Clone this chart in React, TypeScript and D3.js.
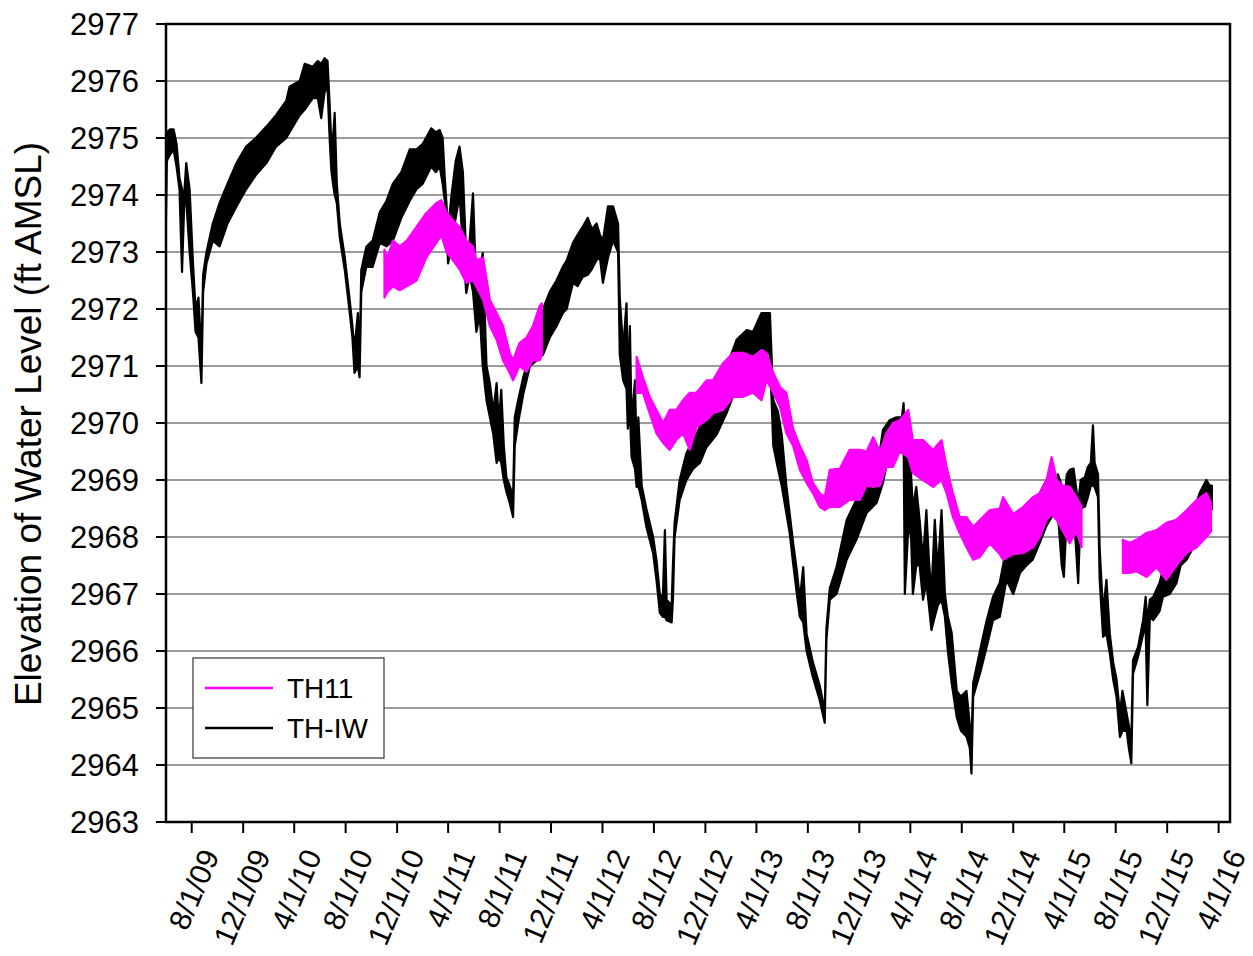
import React from 'react';
import * as d3 from 'd3';

// ---------- data ----------
const yTickValues = [2963, 2964, 2965, 2966, 2967, 2968, 2969, 2970, 2971, 2972, 2973, 2974, 2975, 2976, 2977];
const xTickDates = [
  '2009-08-01', '2009-12-01', '2010-04-01', '2010-08-01', '2010-12-01', '2011-04-01', '2011-08-01',
  '2011-12-01', '2012-04-01', '2012-08-01', '2012-12-01', '2013-04-01', '2013-08-01', '2013-12-01',
  '2014-04-01', '2014-08-01', '2014-12-01', '2015-04-01', '2015-08-01', '2015-12-01', '2016-04-01',
];
const xTickLabels = [
  '8/1/09', '12/1/09', '4/1/10', '8/1/10', '12/1/10', '4/1/11', '8/1/11', '12/1/11', '4/1/12', '8/1/12',
  '12/1/12', '4/1/13', '8/1/13', '12/1/13', '4/1/14', '8/1/14', '12/1/14', '4/1/15', '8/1/15', '12/1/15', '4/1/16',
];
const xDomain = ['2009-06-01', '2016-04-28'];
const seriesNames = ['TH11', 'TH-IW'];

// rows: [date, low of daily fluctuation band, high of band]
type Row = [string, number, number];

const thIW: Row[] = [
  ['2009-06-01', 2973.6, 2974.3], ['2009-06-03', 2974.6, 2975.1], ['2009-06-10', 2974.7, 2975.15],
  ['2009-06-19', 2974.8, 2975.15], ['2009-06-26', 2974.5, 2974.9], ['2009-07-03', 2974.1, 2974.3],
  ['2009-07-09', 2972.65, 2974.1], ['2009-07-14', 2973.8, 2974.0], ['2009-07-19', 2973.9, 2974.56],
  ['2009-07-27', 2973.0, 2974.1], ['2009-08-04', 2972.28, 2972.8], ['2009-08-10', 2971.6, 2972.0],
  ['2009-08-17', 2971.5, 2972.2], ['2009-08-24', 2970.7, 2971.2], ['2009-08-28', 2972.3, 2972.6],
  ['2009-09-05', 2972.8, 2973.0], ['2009-09-20', 2973.2, 2973.5], ['2009-10-06', 2973.1, 2973.86],
  ['2009-10-25', 2973.5, 2974.2], ['2009-11-15', 2973.8, 2974.56], ['2009-12-08', 2974.1, 2974.85],
  ['2009-12-31', 2974.35, 2975.0], ['2010-01-25', 2974.56, 2975.2], ['2010-02-17', 2974.85, 2975.4],
  ['2010-03-13', 2975.0, 2975.65], ['2010-03-21', 2975.1, 2975.9], ['2010-04-14', 2975.4, 2976.0],
  ['2010-04-26', 2975.5, 2976.3], ['2010-05-15', 2975.7, 2976.25], ['2010-05-27', 2975.7, 2976.35],
  ['2010-06-04', 2975.35, 2976.3], ['2010-06-12', 2975.8, 2976.4], ['2010-06-19', 2975.9, 2976.35],
  ['2010-06-24', 2975.0, 2975.6], ['2010-06-28', 2974.44, 2974.9], ['2010-07-02', 2974.2, 2975.0],
  ['2010-07-06', 2974.0, 2975.44], ['2010-07-11', 2973.86, 2974.2], ['2010-07-18', 2973.26, 2973.5],
  ['2010-07-30', 2972.68, 2972.9], ['2010-08-10', 2971.98, 2972.2], ['2010-08-17', 2971.5, 2971.7],
  ['2010-08-22', 2970.88, 2971.3], ['2010-08-30', 2971.0, 2971.93], ['2010-09-03', 2970.8, 2971.0],
  ['2010-09-07', 2972.3, 2972.68], ['2010-09-19', 2972.74, 2973.09], ['2010-10-04', 2972.74, 2973.2],
  ['2010-10-21', 2973.16, 2973.7], ['2010-11-06', 2973.1, 2973.9], ['2010-11-21', 2973.2, 2974.2],
  ['2010-12-11', 2973.6, 2974.4], ['2010-12-31', 2973.9, 2974.8], ['2011-01-16', 2974.1, 2974.8],
  ['2011-01-31', 2974.2, 2974.9], ['2011-02-20', 2974.5, 2975.17], ['2011-03-03', 2974.4, 2975.1],
  ['2011-03-12', 2974.5, 2975.14], ['2011-03-19', 2974.2, 2975.0], ['2011-03-24', 2973.9, 2974.3],
  ['2011-04-01', 2972.8, 2973.4], ['2011-04-09', 2973.2, 2974.0], ['2011-04-19', 2973.6, 2974.6],
  ['2011-04-28', 2974.0, 2974.85], ['2011-05-06', 2973.1, 2974.4], ['2011-05-14', 2972.28, 2972.9],
  ['2011-05-22', 2972.6, 2973.2], ['2011-05-30', 2972.3, 2974.03], ['2011-06-07', 2971.6, 2972.3],
  ['2011-06-15', 2971.9, 2972.7], ['2011-06-22', 2971.0, 2972.98], ['2011-07-01', 2970.4, 2971.0],
  ['2011-07-09', 2970.1, 2970.7], ['2011-07-17', 2969.8, 2970.2], ['2011-07-25', 2969.3, 2970.7],
  ['2011-07-30', 2969.4, 2970.0], ['2011-08-05', 2969.3, 2970.58], ['2011-08-11', 2969.0, 2969.6],
  ['2011-08-17', 2968.8, 2969.05], ['2011-08-25', 2968.6, 2968.9], ['2011-09-02', 2968.35, 2968.7],
  ['2011-09-06', 2969.6, 2970.1], ['2011-09-14', 2970.0, 2970.4], ['2011-09-26', 2970.5, 2970.8],
  ['2011-10-12', 2971.0, 2971.2], ['2011-10-28', 2971.1, 2971.6], ['2011-11-12', 2971.2, 2972.0],
  ['2011-11-28', 2971.5, 2972.3], ['2011-12-14', 2971.7, 2972.5], ['2011-12-29', 2971.93, 2972.74],
  ['2012-01-07', 2972.0, 2972.85], ['2012-01-22', 2972.46, 2973.16], ['2012-02-02', 2972.4, 2973.3],
  ['2012-02-14', 2972.56, 2973.44], ['2012-02-26', 2972.6, 2973.6], ['2012-03-07', 2972.7, 2973.4],
  ['2012-03-18', 2972.86, 2973.5], ['2012-03-26', 2972.9, 2973.3], ['2012-04-02', 2972.46, 2973.2],
  ['2012-04-14', 2972.9, 2973.8], ['2012-04-26', 2973.2, 2973.8], ['2012-05-08', 2973.0, 2973.5],
  ['2012-05-12', 2971.2, 2972.2], ['2012-05-20', 2970.75, 2971.3], ['2012-05-28', 2970.6, 2972.1],
  ['2012-05-31', 2969.9, 2970.7], ['2012-06-05', 2970.2, 2971.7], ['2012-06-09', 2969.4, 2970.0],
  ['2012-06-17', 2969.2, 2970.75], ['2012-06-21', 2968.88, 2969.5], ['2012-06-25', 2968.9, 2970.1],
  ['2012-07-03', 2968.65, 2968.9], ['2012-07-14', 2968.18, 2968.5], ['2012-07-30', 2967.72, 2968.0],
  ['2012-08-07', 2967.25, 2967.6], ['2012-08-15', 2966.67, 2967.0], ['2012-08-22', 2966.6, 2966.9],
  ['2012-08-27', 2966.6, 2968.12], ['2012-08-31', 2966.54, 2966.9], ['2012-09-12', 2966.5, 2966.8],
  ['2012-09-15', 2966.9, 2967.5], ['2012-09-19', 2968.0, 2968.25], ['2012-10-01', 2968.65, 2969.0],
  ['2012-10-17', 2969.0, 2969.47], ['2012-11-02', 2969.2, 2969.7], ['2012-11-18', 2969.3, 2969.93],
  ['2012-12-04', 2969.58, 2970.17], ['2012-12-28', 2969.8, 2970.28], ['2013-01-20', 2970.17, 2970.98],
  ['2013-02-13', 2970.63, 2971.46], ['2013-03-09', 2970.98, 2971.63], ['2013-03-24', 2971.1, 2971.6],
  ['2013-04-13', 2971.2, 2971.93], ['2013-04-23', 2971.28, 2971.93], ['2013-05-03', 2971.2, 2971.93],
  ['2013-05-11', 2969.6, 2970.4], ['2013-05-22', 2969.2, 2970.2], ['2013-05-31', 2968.9, 2969.8],
  ['2013-06-11', 2968.42, 2968.9], ['2013-06-19', 2968.07, 2968.4], ['2013-06-27', 2967.54, 2967.9],
  ['2013-07-06', 2967.0, 2967.4], ['2013-07-13', 2966.6, 2966.9], ['2013-07-21', 2966.5, 2967.47],
  ['2013-07-29', 2966.0, 2966.3], ['2013-08-13', 2965.54, 2965.8], ['2013-08-29', 2965.14, 2965.4],
  ['2013-09-10', 2964.74, 2964.95], ['2013-09-14', 2966.2, 2966.4], ['2013-09-22', 2966.9, 2967.1],
  ['2013-10-08', 2967.0, 2967.47], ['2013-11-01', 2967.6, 2968.3], ['2013-11-24', 2967.95, 2968.65],
  ['2013-12-18', 2968.42, 2968.88], ['2014-01-11', 2968.6, 2969.1], ['2014-01-26', 2968.95, 2969.88],
  ['2014-02-11', 2969.53, 2970.05], ['2014-02-27', 2969.6, 2970.1], ['2014-03-12', 2969.7, 2970.1],
  ['2014-03-16', 2969.8, 2970.35], ['2014-03-19', 2967.0, 2969.6], ['2014-03-26', 2968.0, 2969.4],
  ['2014-04-02', 2968.2, 2969.2], ['2014-04-07', 2967.0, 2968.5], ['2014-04-15', 2967.5, 2968.88],
  ['2014-04-23', 2967.5, 2968.3], ['2014-05-01', 2966.9, 2967.6], ['2014-05-09', 2967.2, 2968.47],
  ['2014-05-15', 2966.8, 2967.6], ['2014-05-21', 2966.37, 2967.0], ['2014-05-29', 2966.6, 2968.3],
  ['2014-06-05', 2966.8, 2967.4], ['2014-06-14', 2966.9, 2968.47], ['2014-06-22', 2966.6, 2967.0],
  ['2014-06-29', 2966.0, 2966.6], ['2014-07-08', 2965.44, 2966.32], ['2014-07-20', 2964.84, 2965.3],
  ['2014-07-30', 2964.6, 2965.2], ['2014-08-12', 2964.5, 2965.3], ['2014-08-20', 2964.3, 2964.7],
  ['2014-08-24', 2963.85, 2964.4], ['2014-08-28', 2965.2, 2965.44], ['2014-09-13', 2965.6, 2966.0],
  ['2014-09-29', 2966.07, 2966.54], ['2014-10-14', 2966.54, 2966.95], ['2014-10-30', 2966.6, 2967.2],
  ['2014-11-15', 2967.25, 2967.82], ['2014-12-01', 2967.0, 2967.7], ['2014-12-17', 2967.37, 2968.07],
  ['2015-01-01', 2967.5, 2968.1], ['2015-01-16', 2967.6, 2968.4], ['2015-02-02', 2967.9, 2968.77],
  ['2015-02-18', 2968.2, 2969.0], ['2015-03-06', 2968.4, 2969.0], ['2015-03-17', 2968.4, 2969.1],
  ['2015-03-26', 2967.5, 2968.9], ['2015-03-31', 2967.3, 2968.5], ['2015-04-07', 2968.4, 2969.1],
  ['2015-04-14', 2968.6, 2969.18], ['2015-04-23', 2968.5, 2969.2], ['2015-05-04', 2967.19, 2968.6],
  ['2015-05-10', 2968.5, 2969.0], ['2015-05-20', 2968.53, 2969.05], ['2015-05-27', 2968.7, 2969.23],
  ['2015-06-03', 2968.9, 2969.3], ['2015-06-08', 2968.9, 2969.96], ['2015-06-12', 2968.88, 2969.3],
  ['2015-06-20', 2968.7, 2969.1], ['2015-06-24', 2967.25, 2967.8], ['2015-07-02', 2966.25, 2966.67],
  ['2015-07-10', 2966.3, 2967.25], ['2015-07-18', 2965.96, 2966.3], ['2015-07-26', 2965.5, 2965.8],
  ['2015-08-03', 2965.19, 2965.5], ['2015-08-11', 2964.49, 2964.9], ['2015-08-17', 2964.6, 2965.3],
  ['2015-08-27', 2964.6, 2964.9], ['2015-09-01', 2964.3, 2964.7], ['2015-09-07', 2964.03, 2964.4],
  ['2015-09-11', 2965.6, 2965.84], ['2015-09-23', 2965.9, 2966.07], ['2015-10-05', 2966.3, 2966.54],
  ['2015-10-11', 2966.4, 2966.95], ['2015-10-15', 2965.05, 2966.5], ['2015-10-21', 2966.6, 2966.9],
  ['2015-10-29', 2966.54, 2966.95], ['2015-11-13', 2966.7, 2967.2], ['2015-11-21', 2966.95, 2967.42],
  ['2015-12-07', 2967.0, 2967.6], ['2015-12-23', 2967.19, 2967.82], ['2016-01-02', 2967.5, 2967.9],
  ['2016-01-16', 2967.6, 2967.95], ['2016-02-01', 2967.82, 2968.42], ['2016-02-16', 2968.3, 2968.77],
  ['2016-03-03', 2968.5, 2969.0], ['2016-03-11', 2968.4, 2968.9], ['2016-03-16', 2968.5, 2968.9],
];

const th11Seg1: Row[] = [
  ['2010-11-01', 2972.2, 2973.04], ['2010-11-08', 2972.3, 2972.9], ['2010-11-21', 2972.4, 2973.2],
  ['2010-12-07', 2972.33, 2973.1], ['2010-12-24', 2972.4, 2973.2], ['2011-01-16', 2972.5, 2973.44],
  ['2011-02-08', 2972.9, 2973.68], ['2011-03-04', 2973.16, 2973.86], ['2011-03-16', 2973.3, 2973.91],
  ['2011-03-28', 2973.0, 2973.7], ['2011-04-12', 2972.86, 2973.56], ['2011-04-28', 2972.7, 2973.44],
  ['2011-05-14', 2972.46, 2973.2], ['2011-05-30', 2972.5, 2973.1], ['2011-06-07', 2972.39, 2972.86],
  ['2011-06-23', 2972.16, 2972.9], ['2011-07-09', 2971.7, 2972.16], ['2011-07-25', 2971.46, 2971.93],
  ['2011-08-09', 2971.1, 2971.7], ['2011-08-25', 2970.88, 2971.23], ['2011-09-02', 2970.75, 2971.1],
  ['2011-09-17', 2971.0, 2971.4], ['2011-10-04', 2970.9, 2971.5], ['2011-10-19', 2971.1, 2971.7],
  ['2011-11-04', 2971.1, 2972.05], ['2011-11-09', 2971.2, 2972.1],
];

const th11Seg2: Row[] = [
  ['2012-06-21', 2970.53, 2971.16], ['2012-07-06', 2970.53, 2970.8], ['2012-07-22', 2970.17, 2970.46],
  ['2012-08-07', 2969.82, 2970.23], ['2012-08-23', 2969.65, 2970.0], ['2012-09-07', 2969.53, 2970.23],
  ['2012-09-23', 2969.7, 2970.23], ['2012-10-09', 2969.82, 2970.4], ['2012-10-25', 2969.53, 2970.53],
  ['2012-11-10', 2969.93, 2970.53], ['2012-12-04', 2970.05, 2970.75], ['2012-12-19', 2970.17, 2970.75],
  ['2013-01-12', 2970.23, 2971.05], ['2013-02-05', 2970.46, 2971.23], ['2013-02-28', 2970.46, 2971.23],
  ['2013-03-24', 2970.53, 2971.16], ['2013-04-13', 2970.4, 2971.28], ['2013-04-25', 2970.75, 2971.23],
  ['2013-05-11', 2970.53, 2970.88], ['2013-05-27', 2970.28, 2970.63], ['2013-06-11', 2969.82, 2970.53],
  ['2013-06-27', 2969.6, 2969.9], ['2013-07-13', 2969.18, 2969.6], ['2013-07-29', 2968.95, 2969.35],
  ['2013-08-13', 2968.77, 2968.95], ['2013-08-29', 2968.53, 2968.77], ['2013-09-10', 2968.47, 2968.7],
  ['2013-09-22', 2968.53, 2969.18], ['2013-10-16', 2968.53, 2969.2], ['2013-11-08', 2968.65, 2969.53],
  ['2013-12-02', 2968.65, 2969.53], ['2013-12-18', 2968.9, 2969.5], ['2014-01-03', 2968.88, 2969.75],
  ['2014-01-19', 2968.9, 2969.5], ['2014-02-03', 2969.23, 2969.82], ['2014-02-19', 2969.23, 2970.0],
  ['2014-03-07', 2969.5, 2970.05], ['2014-03-27', 2969.4, 2970.23], ['2014-04-07', 2969.12, 2969.7],
  ['2014-05-01', 2969.0, 2969.7], ['2014-05-25', 2968.88, 2969.53], ['2014-06-14', 2969.0, 2969.7],
  ['2014-06-26', 2968.77, 2969.23], ['2014-07-11', 2968.35, 2968.77], ['2014-07-27', 2968.07, 2968.35],
  ['2014-08-12', 2967.82, 2968.35], ['2014-08-28', 2967.6, 2968.18], ['2014-09-13', 2967.65, 2968.3],
  ['2014-10-06', 2967.89, 2968.47], ['2014-10-30', 2967.7, 2968.5], ['2014-11-07', 2967.6, 2968.7],
  ['2014-12-01', 2967.7, 2968.4], ['2014-12-25', 2967.72, 2968.53], ['2015-01-17', 2967.82, 2968.7],
  ['2015-02-02', 2968.0, 2968.77], ['2015-02-18', 2968.3, 2969.0], ['2015-03-02', 2968.4, 2969.4],
  ['2015-03-14', 2968.3, 2969.0], ['2015-03-29', 2968.1, 2968.9], ['2015-04-14', 2967.89, 2968.88],
  ['2015-04-30', 2968.1, 2968.7], ['2015-05-12', 2967.82, 2968.53],
];

const th11Seg3: Row[] = [
  ['2015-08-18', 2967.37, 2967.95], ['2015-09-03', 2967.37, 2967.9], ['2015-09-19', 2967.4, 2967.95],
  ['2015-10-13', 2967.3, 2968.07], ['2015-11-06', 2967.47, 2968.12], ['2015-11-29', 2967.25, 2968.25],
  ['2015-12-23', 2967.5, 2968.3], ['2016-01-16', 2967.72, 2968.47], ['2016-02-09', 2967.82, 2968.65],
  ['2016-03-03', 2968.0, 2968.77], ['2016-03-14', 2968.1, 2968.6],
];

// ---------- layout ----------
const W = 1253;
const H = 956;
const plot = { left: 166, right: 1230, top: 24, bottom: 822 };
const FONT = '"Liberation Sans", Arial, Helvetica, sans-serif';
const MAGENTA = '#ff00ff';

const parse = d3.timeParse('%Y-%m-%d');

export default function App() {
  const x = d3
    .scaleTime()
    .domain(xDomain.map((s) => parse(s) as Date))
    .range([plot.left, plot.right]);
  const y = d3.scaleLinear().domain([2963, 2977]).range([plot.bottom, plot.top]);

  const band = d3
    .area<Row>()
    .x((d) => x(parse(d[0]) as Date))
    .y0((d) => y(d[1]))
    .y1((d) => y(d[2]));

  const grid = yTickValues.filter((v) => v > 2963 && v < 2977);

  return (
    <div style={{ position: 'absolute', left: 0, top: 0 }}>
      <svg width={W} height={H} viewBox={`0 0 ${W} ${H}`} style={{ display: 'block', background: '#fff' }}>
        <defs>
          <clipPath id="plotClip">
            <rect x={plot.left} y={plot.top} width={plot.right - plot.left} height={plot.bottom - plot.top} />
          </clipPath>
        </defs>
        <rect x={0} y={0} width={W} height={H} fill="#fff" />

        {/* grid lines */}
        {grid.map((v) => (
          <line key={v} x1={plot.left} x2={plot.right} y1={y(v)} y2={y(v)} stroke="#7a7a7a" strokeWidth={1.4} />
        ))}

        {/* series */}
        <g clipPath="url(#plotClip)">
          <path d={band(thIW) || ''} fill="#000" stroke="#000" strokeWidth={2.2} strokeLinejoin="round" />
          {[th11Seg1, th11Seg2, th11Seg3].map((seg, i) => (
            <path key={i} d={band(seg) || ''} fill={MAGENTA} stroke={MAGENTA} strokeWidth={2.2} strokeLinejoin="round" />
          ))}
        </g>

        {/* frame */}
        <rect
          x={plot.left}
          y={plot.top}
          width={plot.right - plot.left}
          height={plot.bottom - plot.top}
          fill="none"
          stroke="#000"
          strokeWidth={2.5}
        />

        {/* y axis ticks & labels */}
        {yTickValues.map((v) => (
          <g key={v}>
            <line x1={plot.left - 10} x2={plot.left} y1={y(v)} y2={y(v)} stroke="#000" strokeWidth={2} />
            <text
              x={139}
              y={y(v)}
              dy="0.36em"
              textAnchor="end"
              fontFamily={FONT}
              fontSize={31}
              fill="#000"
            >
              {v}
            </text>
          </g>
        ))}

        {/* x axis ticks & labels */}
        {xTickDates.map((s, i) => {
          const tx = x(parse(s) as Date);
          return (
            <g key={s}>
              <line x1={tx} x2={tx} y1={plot.bottom} y2={plot.bottom + 11} stroke="#000" strokeWidth={2} />
              <text
                transform={`translate(${tx + 18},${plot.bottom + 29}) rotate(-67)`}
                textAnchor="end"
                dy="0.36em"
                fontFamily={FONT}
                fontSize={30}
                fill="#000"
              >
                {xTickLabels[i]}
              </text>
            </g>
          );
        })}

        {/* y axis title */}
        <text
          transform={`translate(41,${(plot.top + plot.bottom) / 2 + 1}) rotate(-90)`}
          textAnchor="middle"
          fontFamily={FONT}
          fontSize={37}
          fill="#000"
        >
          Elevation of Water Level (ft AMSL)
        </text>

        {/* legend */}
        <g>
          <rect x={193} y={658} width={191} height={100} fill="#fff" stroke="#333" strokeWidth={1.2} />
          <line x1={205} x2={273} y1={688} y2={688} stroke={MAGENTA} strokeWidth={2.5} />
          <line x1={205} x2={273} y1={728} y2={728} stroke="#000" strokeWidth={2.5} />
          <text x={287} y={698} fontFamily={FONT} fontSize={28} fill="#000">
            {seriesNames[0]}
          </text>
          <text x={287} y={738} fontFamily={FONT} fontSize={28} fill="#000">
            {seriesNames[1]}
          </text>
        </g>
      </svg>
    </div>
  );
}
